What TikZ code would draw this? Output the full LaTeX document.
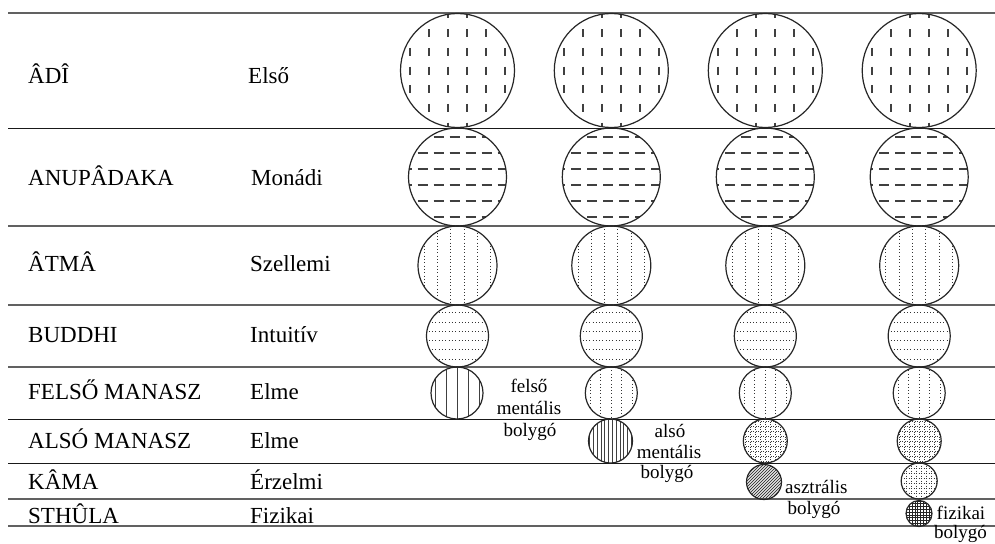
\documentclass[tikz,border=0pt]{standalone}
\usepackage{fontspec}
\setmainfont{Liberation Serif}
\begin{document}
\begin{tikzpicture}[x=1pt,y=-1pt,
  thickrule/.style={draw=black!62, line width=1.8pt},
  thinrule/.style={draw=black!90, line width=0.9pt},
  planet/.style={circle, draw=black!85, line width=1.2pt, inner sep=0pt},
  hatchline/.style={draw=black!75, line width=0.9pt},
  dashline/.style={draw=black!75, line width=1.7pt},
  dotline/.style={draw=black!80, line width=1pt, dash pattern=on 1pt off 2.3pt},
  finedot/.style={draw=black!78, line width=0.75pt, dash pattern=on 0.8pt off 1.7pt},
  lefttext/.style={anchor=base west, font=\fontsize{23}{26}\selectfont, inner sep=0pt},
  note/.style={anchor=base, font=\fontsize{19}{21}\selectfont, inner sep=0pt},
  notew/.style={anchor=base west, font=\fontsize{19}{21}\selectfont, inner sep=0pt}]
\useasboundingbox (0,0) rectangle (995,543);
\fill[white] (0,0) rectangle (995,543);

% rules
\foreach \y in {13,226,305,367,499,526} \draw[thickrule] (8,\y) -- (995,\y);
\foreach \y in {128,419,463} \draw[thinrule] (8,\y) -- (995,\y);

% left texts
\node[lefttext] (n1) at (28,83) {ÂDÎ};
\node[lefttext] (m1) at (248,83) {Első};
\node[lefttext] (n2) at (28,185) {ANUPÂDAKA};
\node[lefttext] (m2) at (251,185) {Monádi};
\node[lefttext] (n3) at (28,271) {ÂTMÂ};
\node[lefttext] (m3) at (250,271) {Szellemi};
\node[lefttext] (n4) at (28,342) {BUDDHI};
\node[lefttext] (m4) at (250,342) {Intuitív};
\node[lefttext] (n5) at (28,399.5) {FELSŐ MANASZ};
\node[lefttext] (m5) at (250,399.5) {Elme};
\node[lefttext] (n6) at (28,448) {ALSÓ MANASZ};
\node[lefttext] (m6) at (250,448) {Elme};
\node[lefttext] (n7) at (28,489) {KÂMA};
\node[lefttext] (m7) at (250,489) {Érzelmi};
\node[lefttext] (n8) at (28,523) {STHÛLA};
\node[lefttext] (m8) at (250,523) {Fizikai};

% row 1: vertical dashes
\foreach \cx [count=\i] in {457.5,611.3,765.3,919.2} {
  \begin{scope}
    \clip (\cx,70.5) circle (57pt);
    \foreach \dx in {-47.5,-28.5,-9.5,9.5,28.5,47.5}
      \foreach \dy in {-56,-37.3,-18.7,0,18.7,37.3,56}
        \draw[dashline] (\cx+\dx,70.5+\dy-4) -- (\cx+\dx,70.5+\dy+4);
  \end{scope}
  \node[planet, minimum size=114pt] (a\i) at (\cx,70.5) {};
}

% row 2: horizontal dashes
\foreach \cx [count=\i] in {457.5,611.3,765.3,919.2} {
  \begin{scope}
    \clip (\cx,177) circle (49pt);
    \foreach \dy in {-40,-24,-8,8,24,40}
      \foreach \dx in {-67,-51,-35,-19,-3,13,29,45,61}
        \draw[dashline] (\cx+\dx-5,177+\dy) -- (\cx+\dx+5,177+\dy);
  \end{scope}
  \node[planet, minimum size=98pt] (b\i) at (\cx,177) {};
}

% row 3: vertical dotted lines
\foreach \cx [count=\i] in {457.5,611.3,765.3,919.2} {
  \begin{scope}
    \clip (\cx,265.5) circle (39.5pt);
    \foreach \dx in {-33.25,-19.95,-6.65,6.65,19.95,33.25}
      \draw[dotline] (\cx+\dx,226) -- (\cx+\dx,305);
  \end{scope}
  \node[planet, minimum size=79pt] (c\i) at (\cx,265.5) {};
}

% row 4: horizontal dotted lines
\foreach \cx [count=\i] in {457.5,611.3,765.3,919.2} {
  \begin{scope}
    \clip (\cx,336) circle (31pt);
    \foreach \dy in {-23.25,-13.95,-4.65,4.65,13.95,23.25}
      \draw[dotline] (\cx-32,336+\dy) -- (\cx+32,336+\dy);
  \end{scope}
  \node[planet, minimum size=62pt] (d\i) at (\cx,336) {};
}

% row 5: column 1 solid vertical lines, others dotted
\begin{scope}
  \clip (457,393) circle (26pt);
  \foreach \dx in {-22,-11,0,11,22}
    \draw[hatchline] (457+\dx,367) -- (457+\dx,419);
\end{scope}
\node[planet, minimum size=52pt] (e1) at (457,393) {};
\foreach \cx [count=\i from 2] in {611.3,765.3,919.2} {
  \begin{scope}
    \clip (\cx,393) circle (26pt);
    \foreach \dx in {-21,-10.5,0,10.5,21}
      \draw[dotline] (\cx+\dx,367) -- (\cx+\dx,419);
  \end{scope}
  \node[planet, minimum size=52pt] (e\i) at (\cx,393) {};
}

% row 6: column 2 dense vertical lines, columns 3-4 dotted grid
\begin{scope}
  \clip (610.5,441) circle (22pt);
  \foreach \dx in {-20.9,-17.1,...,21}
    \draw[hatchline, line width=0.75pt] (610.5+\dx,419) -- (610.5+\dx,463);
\end{scope}
\node[planet, minimum size=44pt] (f2) at (610.5,441) {};
\foreach \cx [count=\i from 3] in {765.3,919.2} {
  \begin{scope}
    \clip (\cx,441) circle (22pt);
    \foreach \d in {-20,-15,...,20} {
      \draw[finedot] (\cx+\d,419) -- (\cx+\d,463);
      \draw[finedot] (\cx-22,441+\d) -- (\cx+22,441+\d);
    }
  \end{scope}
  \node[planet, minimum size=44pt] (f\i) at (\cx,441) {};
}

% row 7: column 3 diagonal hatching, column 4 dotted grid
\begin{scope}
  \clip (764,482) circle (17.5pt);
  \foreach \t in {-39,-36,...,39}
    \draw[hatchline, line width=0.8pt] (764+\t-20,502) -- (764+\t+20,462);
\end{scope}
\node[planet, minimum size=35pt] (g3) at (764,482) {};
\begin{scope}
  \clip (919.2,481) circle (18pt);
  \foreach \d in {-17.5,-12.5,...,17.5} {
    \draw[finedot] (919.2+\d,463) -- (919.2+\d,499);
    \draw[finedot] (901,481+\d) -- (937,481+\d);
  }
\end{scope}
\node[planet, minimum size=36pt] (g4) at (919.2,481) {};

% row 8: column 4 crosshatch
\begin{scope}
  \clip (919,513.5) circle (13pt);
  \foreach \d in {-12.6,-9.8,...,13} {
    \draw[draw=black!85, line width=0.6pt] (919+\d,500) -- (919+\d,527);
    \draw[draw=black!85, line width=0.6pt] (905,513.5+\d) -- (933,513.5+\d);
  }
\end{scope}
\node[planet, minimum size=26pt] (h4) at (919,513.5) {};

% planet labels
\node[note] (p1a) at (529,392) {felső};
\node[note] (p1b) at (529,414.5) {mentális};
\node[note] (p1c) at (530,436) {bolygó};
\node[note] (p2a) at (670,437) {alsó};
\node[note] (p2b) at (669,458) {mentális};
\node[note] (p2c) at (667,478.5) {bolygó};
\node[notew] (p3a) at (785,493) {asztrális};
\node[note] (p3b) at (814,514.5) {bolygó};
\node[notew] (p4a) at (936.5,519.5) {fizikai};
\node[notew] (p4b) at (934,538.5) {bolygó};
\end{tikzpicture}
\end{document}
